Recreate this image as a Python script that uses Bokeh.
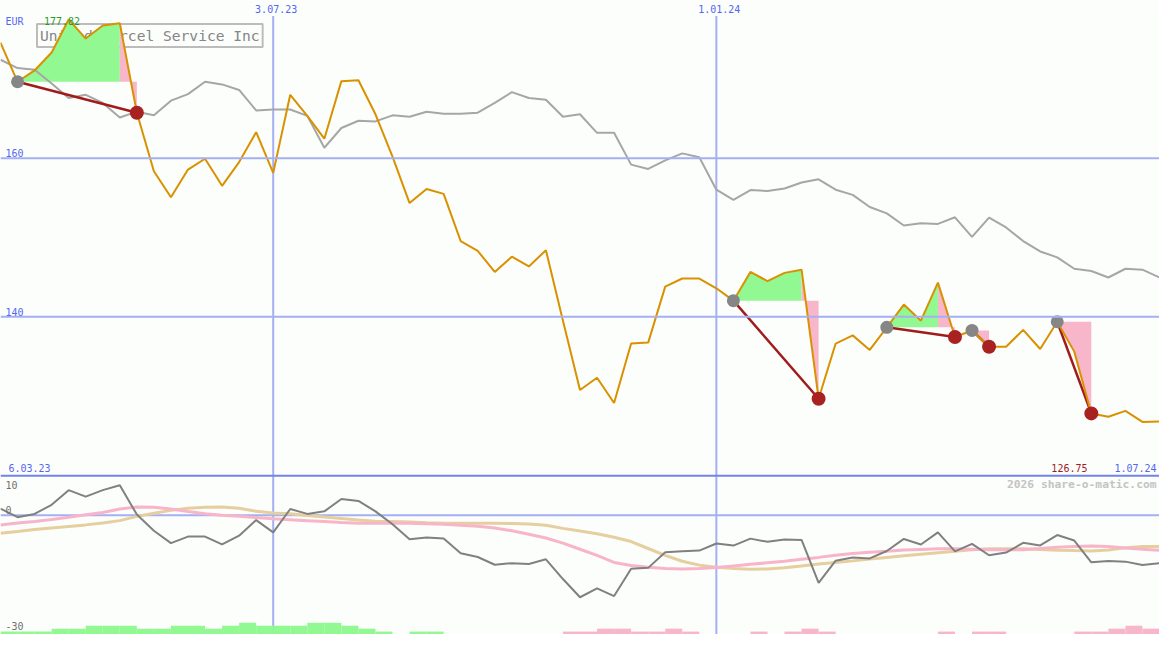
import pandas as pd
from bokeh.plotting import figure
from bokeh.models import Range1d, Label, Span
from bokeh.embed import file_html
from bokeh.resources import INLINE

# ---------------- data ----------------
dates = pd.date_range("2023-03-13", periods=69, freq="7D")

price = [174.56, 169.64, 171.07, 173.33, 177.5, 175.09, 176.73, 177.02, 165.74, 158.36,
         155.08, 158.57, 159.93, 156.52, 159.51, 163.28, 158.15, 168.0, 165.34, 162.46,
         169.72, 169.84, 165.54, 160.21, 154.34, 156.11, 155.5, 149.55, 148.31, 145.66,
         147.58, 146.35, 148.4, 139.51, 130.77, 132.32, 129.13, 136.63, 136.75, 143.81,
         144.83, 144.83, 143.6, 142.04, 145.66, 144.5, 145.54, 145.94, 129.67, 136.63,
         137.66, 135.82, 138.68, 141.55, 139.51, 144.31, 137.45, 138.28, 136.22, 136.22,
         138.35, 135.94, 139.38, 135.61, 127.82, 127.4, 128.14, 126.75, 126.8]

bench = [172.42, 171.37, 171.16, 169.43, 167.59, 168.0, 166.97, 165.13, 165.87, 165.41,
         167.26, 168.08, 169.64, 169.31, 168.61, 166.03, 166.15, 166.15, 165.34, 161.32,
         163.81, 164.72, 164.64, 165.41, 165.22, 165.87, 165.62, 165.62, 165.74, 166.97,
         168.33, 167.59, 167.38, 165.22, 165.54, 163.2, 163.2, 159.19, 158.65, 159.72,
         160.61, 160.12, 156.03, 154.76, 155.99, 155.87, 156.19, 156.93, 157.34, 156.03,
         155.38, 153.85, 153.04, 151.51, 151.81, 151.72, 152.55, 150.09, 152.5, 151.27,
         149.55, 148.24, 147.5, 146.06, 145.78, 144.96, 146.06, 145.94, 144.96]

momentum = [1.69, -0.5, 0.34, 2.7, 6.48, 4.8, 6.48, 7.74, 0.18, -4.03,
            -7.21, -5.53, -5.53, -7.56, -5.29, -1.26, -4.44, 1.6, 0.34, 1.0,
            4.2, 3.7, 1.0, -2.34, -6.2, -5.75, -6.0, -9.85, -10.8, -12.8,
            -12.4, -12.6, -11.4, -16.5, -21.2, -18.9, -20.9, -13.86, -13.61, -9.58,
            -9.33, -9.15, -7.31, -7.85, -6.05, -6.88, -6.3, -6.38, -17.47, -11.76,
            -10.92, -11.17, -9.24, -6.13, -7.56, -4.45, -9.33, -7.39, -10.34, -9.66,
            -7.14, -7.81, -5.12, -6.55, -12.18, -11.85, -12.0, -12.86, -12.43]

avg_fast = [-2.52, -2.0, -1.6, -1.1, -0.5, 0.1, 0.7, 1.6, 2.1, 2.05,
            1.6, 0.95, 0.4, 0.0, -0.3, -0.6, -0.9, -1.15, -1.4, -1.65,
            -1.9, -2.1, -2.1, -2.1, -2.1, -2.2, -2.35, -2.6, -2.85, -3.3,
            -4.0, -4.9, -5.9, -7.2, -8.8, -10.4, -12.2, -13.0, -13.45, -13.8,
            -13.9, -13.8, -13.5, -13.1, -12.7, -12.3, -11.9, -11.4, -10.9, -10.35,
            -9.9, -9.55, -9.3, -9.0, -8.85, -8.7, -8.7, -8.8, -8.9, -8.9,
            -8.9, -8.6, -8.25, -8.1, -7.97, -8.1, -8.5, -8.8, -9.07]

avg_slow = [-4.69, -4.2, -3.7, -3.3, -2.9, -2.5, -2.0, -1.4, -0.3, 0.5,
            1.25, 1.8, 2.05, 2.1, 1.8, 1.0, 0.6, 0.35, -0.05, -0.45,
            -0.85, -1.25, -1.55, -1.65, -1.76, -1.95, -2.08, -2.09, -2.09, -2.1,
            -2.15, -2.25, -2.6, -3.4, -4.1, -4.8, -5.7, -6.8, -8.6, -10.4,
            -11.9, -12.9, -13.45, -13.75, -13.94, -13.9, -13.6, -13.1, -12.6, -12.25,
            -11.8, -11.3, -10.9, -10.5, -10.1, -9.7, -9.3, -8.95, -8.65, -8.65,
            -8.65, -8.85, -9.05, -9.15, -9.23, -9.0, -8.4, -8.07, -8.07]

# weekly histogram levels (one per week interval)
green_hist = [1, 1, 1, 2, 2, 3, 3, 3, 2, 2, 3, 3, 2, 3, 4, 3, 3, 3, 4, 4,
              3, 2, 1, 0, 1, 1, 0, 0, 0, 0, 0, 0, 0, 0, 0, 0, 0, 0, 0, 0,
              0, 0, 0, 0, 0, 0, 0, 0, 0, 0, 0, 0, 0, 0, 0, 0, 0, 0, 0, 0,
              0, 0, 0, 0, 0, 0, 0, 0]
pink_hist = [0, 0, 0, 0, 0, 0, 0, 0, 0, 0, 0, 0, 0, 0, 0, 0, 0, 0, 0, 0,
             0, 0, 0, 0, 0, 0, 0, 0, 0, 0, 0, 0, 0, 1, 1, 2, 2, 1, 1, 2,
             1, 0, 0, 0, 1, 0, 1, 2, 1, 0, 0, 0, 0, 0, 0, 1, 0, 1, 1, 0,
             0, 0, 0, 1, 1, 2, 3, 2]

entry_idx = [1, 43, 52, 57, 62]
exit_idx = [8, 48, 56, 58, 64]

price_ticks = [160, 140]
ind_ticks = [10, 0, -30]
date_ticks = ["2023-07-03", "2024-01-01"]
date_tick_labels = ["3.07.23", "1.01.24"]
title_text = "United Parcel Service Inc"
currency = "EUR"
start_label = "6.03.23"
end_label = "1.07.24"
max_label = "177.82"
min_label = "126.75"
watermark = "2026 share-o-matic.com"

# ---------------- style ----------------
W, H = 1159, 634
REF_W, REF_H = 1175, 650
BG = "#fcfefc"
GRID = "#a4b0f2"
SEP = "#7282ea"
BLUE = "#5566ee"
FONT = "DejaVu Sans Mono"

xms = [d.value / 1e6 for d in dates]
X0, X1 = xms[0], xms[-1]


def X(px):
    return X0 + (X1 - X0) * px / REF_W


def P(py):  # reference pixel row -> price units
    return 140 + (324.3 - py) / 8.13


def IND(v):  # indicator value -> reference pixel row
    return 527.7 - v * 3.967


p = figure(width=W, height=H, x_range=Range1d(X0, X1), y_range=Range1d(P(REF_H), P(0)),
           x_axis_location=None, y_axis_location=None, output_backend="svg",
           toolbar_location=None, min_border=0, background_fill_color=BG,
           border_fill_color=BG, outline_line_color=None)
p.grid.visible = False
p.extra_y_ranges = {"ind": Range1d(-(REF_H - 527.7) / 3.967, 527.7 / 3.967),
                    "bar": Range1d(0, REF_H / 3.0)}

# grid lines
for t in price_ticks:
    p.add_layout(Span(location=t, dimension="width", line_color=GRID, line_width=2))
for d in date_ticks:
    dx = pd.Timestamp(d).value / 1e6
    p.segment(x0=[dx], y0=[P(16)], x1=[dx], y1=[P(REF_H)], line_color=GRID, line_width=2)
p.segment(x0=[X0], y0=[0], x1=[X1], y1=[0], y_range_name="ind", line_color=GRID, line_width=2)
p.add_layout(Span(location=P(487.3), dimension="width", line_color=SEP, line_width=2))

# title box
p.add_layout(Label(x=X(37), y=P(36), text=title_text, text_font=FONT, text_font_size="14.6px",
                   text_color="#858585", text_baseline="middle", text_align="left",
                   border_line_color="#bcbcbc", border_line_width=2, padding=3,
                   background_fill_color=BG, level="underlay"))

# lower panel histogram
p.quad(left=xms[:-1], right=xms[1:], bottom=0, top=green_hist, y_range_name="bar",
       fill_color="#92f892", line_color=None)
p.quad(left=xms[:-1], right=xms[1:], bottom=0, top=pink_hist, y_range_name="bar",
       fill_color="#f8b6ca", line_color=None)

# lower panel lines
p.line(xms, avg_slow, y_range_name="ind", line_color="#e6cf9e", line_width=3)
p.line(xms, avg_fast, y_range_name="ind", line_color="#f8b4c8", line_width=3)
p.line(xms, momentum, y_range_name="ind", line_color="#808080", line_width=2)

# trade fills
gx, gy, rx, ry = [], [], [], []
for e, x in zip(entry_idx, exit_idx):
    k = x
    while k - 1 >= e and price[k - 1] > price[k]:
        k -= 1
    lvl = price[e]
    if k > e:
        gx.append(xms[e:k + 1] + [xms[k], xms[e]])
        gy.append(price[e:k + 1] + [lvl, lvl])
    rx.append([xms[k], xms[x]] + xms[k:x + 1][::-1])
    ry.append([lvl, lvl] + price[k:x + 1][::-1])
p.patches(gx, gy, fill_color="#92f892", line_color=None)
p.patches(rx, ry, fill_color="#f8b6ca", line_color=None)

# benchmark line
p.line(xms, bench, line_color="#a6a6a6", line_width=2)

# trade connectors (below the price line)
p.segment(x0=[xms[e] for e in entry_idx], y0=[price[e] for e in entry_idx],
          x1=[xms[x] for x in exit_idx], y1=[price[x] for x in exit_idx],
          line_color="#a01c1c", line_width=2.5)

# price line
p.line(xms, price, line_color="#d99100", line_width=2)

# trade markers
p.scatter([xms[e] for e in entry_idx], [price[e] for e in entry_idx], size=13,
          fill_color="#868686", line_color=None)
p.scatter([xms[x] for x in exit_idx], [price[x] for x in exit_idx], size=14,
          fill_color="#a82222", line_color=None)


def lab(x, y, text, color, align="left", size="10px", style="normal"):
    p.add_layout(Label(x=x, y=y, text=text, text_font=FONT, text_font_size=size,
                       text_color=color, text_align=align, text_baseline="middle",
                       text_font_style=style))


lab(X(5), P(21.5), currency, BLUE)
lab(X(44), P(21.5), max_label, "#2a9a2a")
for t in price_ticks:
    lab(X(5), P(324.3 - (t - 140) * 8.13 - 5), str(t), BLUE)
for d, s in zip(date_ticks, date_tick_labels):
    lab(pd.Timestamp(d).value / 1e6 + (X(3) - X0), P(9), s, BLUE, align="center")
lab(X(8), P(479.5), start_label, BLUE)
lab(X(1102), P(479.5), min_label, "#a01c1c", align="right")
lab(X(1172), P(479.5), end_label, BLUE, align="right")
lab(X(1172), P(496.5), watermark, "#c4c4c4", align="right", size="11.3px", style="bold")
for t in ind_ticks:
    yy = IND(t)
    cy = yy + 8.5 if t == max(ind_ticks) else yy - 5
    lab(X(5), P(cy), str(t), "#707070")

open("out.html", "w").write(file_html(p, INLINE))
